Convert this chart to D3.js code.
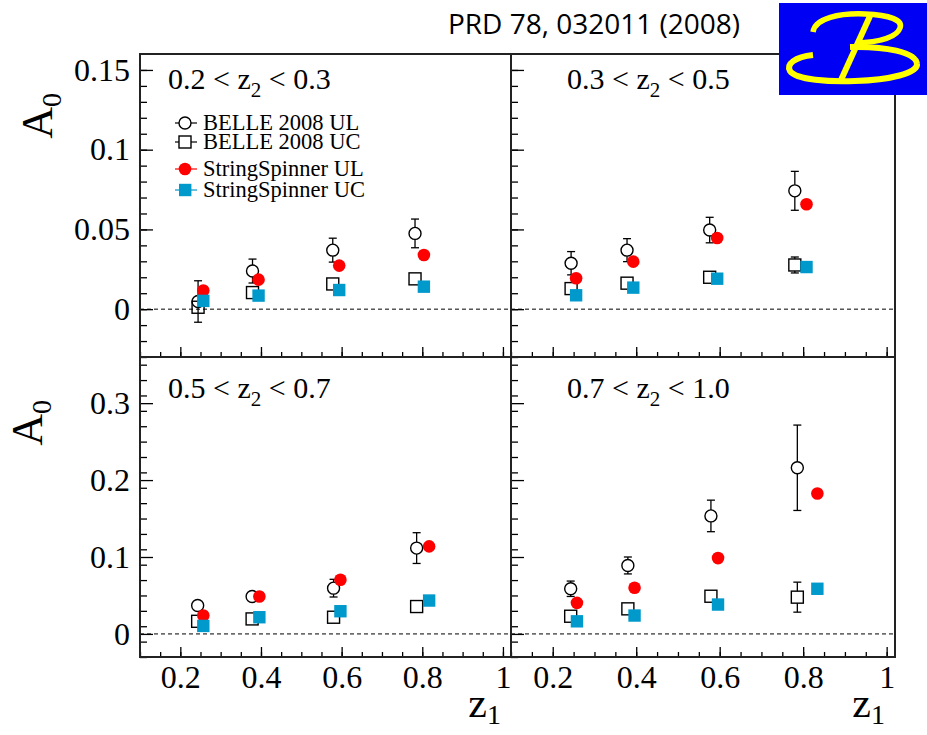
<!DOCTYPE html>
<html>
<head>
<meta charset="utf-8">
<script src="https://cdn.jsdelivr.net/npm/d3@7"></script>
<style>
  body { margin: 0; background: #fff; }
</style>
</head>
<body>
<div id="chart"></div>
<script>
// z2 bins, one per pad (top-left, top-right, bottom-left, bottom-right)
var binLow  = ["0.2", "0.3", "0.5", "0.7"];
var binHigh = ["0.3", "0.5", "0.7", "1.0"];

// BELLE 2008 points (z1 mean, A0 and error)
var belleX = [
  [0.244, 0.379, 0.578, 0.782],
  [0.244, 0.378, 0.576, 0.780],
  [0.243, 0.378, 0.580, 0.786],
  [0.243, 0.380, 0.579, 0.786]
];
var belleUL = [
  [0.0048, 0.0239, 0.0370, 0.0475],
  [0.0288, 0.0370, 0.0496, 0.0742],
  [0.0369, 0.0486, 0.0595, 0.1116],
  [0.0587, 0.0890, 0.1534, 0.2160]
];
var belleULerr = [
  [0.0130, 0.0075, 0.0075, 0.0090],
  [0.0073, 0.0072, 0.0080, 0.0122],
  [0.0060, 0.0060, 0.0115, 0.0200],
  [0.0100, 0.0110, 0.0205, 0.0555]
];
var belleUC = [
  [0.0012, 0.0104, 0.0158, 0.0190],
  [0.0129, 0.0163, 0.0200, 0.0277],
  [0.0164, 0.0195, 0.0217, 0.0356],
  [0.0230, 0.0326, 0.0490, 0.0478]
];
var belleUCerr = [
  [0.0030, 0.0020, 0.0020, 0.0020],
  [0.0030, 0.0030, 0.0030, 0.0050],
  [0.0040, 0.0040, 0.0040, 0.0050],
  [0.0050, 0.0060, 0.0070, 0.0195]
];

// StringSpinner simulation points
var ssX = [
  [0.257, 0.394, 0.594, 0.804],
  [0.256, 0.393, 0.594, 0.808],
  [0.257, 0.396, 0.597, 0.817],
  [0.258, 0.396, 0.596, 0.834]
];
var ssUL = [
  [0.0117, 0.0185, 0.0273, 0.0340],
  [0.0194, 0.0298, 0.0446, 0.0658],
  [0.0239, 0.0486, 0.0704, 0.1138],
  [0.0404, 0.0600, 0.0986, 0.1825]
];
var ssULerr = [
  [0, 0, 0, 0],
  [0, 0, 0, 0],
  [0, 0, 0, 0],
  [0, 0, 0, 0.0060]
];
var ssUC = [
  [0.0052, 0.0085, 0.0120, 0.0141],
  [0.0087, 0.0135, 0.0191, 0.0264],
  [0.0104, 0.0217, 0.0295, 0.0434],
  [0.0164, 0.0239, 0.0382, 0.0587]
];

var legendNames = ["BELLE 2008 UL", "BELLE 2008 UC", "StringSpinner UL", "StringSpinner UC"];

// axes
var xDomain = [0.1, 1.02];
var yDomains = [[-0.03, 0.16], [-0.03, 0.36]];
var xTicks = [0.2, 0.4, 0.6, 0.8, 1];
var yTicks = [[0, 0.05, 0.1, 0.15], [0, 0.1, 0.2, 0.3]];
var yMinorStep = [0.01, 0.02];

var W = 927, H = 735;
var serif = "'Liberation Serif', 'Times New Roman', serif";
var red = "#ff0000", blue = "#0099cc";

var svg = d3.select("#chart").append("svg")
    .attr("width", W)
    .attr("height", H);

// pad boxes in pixels
var colX = [[140, 511], [511, 895]];
var rowY = [[54, 357], [357, 657]];

for (let p = 0; p < 4; p++) {
  let row = Math.floor(p / 2), col = p % 2;
  let x0 = colX[col][0], x1 = colX[col][1];
  let y0 = rowY[row][0], y1 = rowY[row][1];

  let x = d3.scaleLinear().domain(xDomain).range([x0, x1]);
  let y = d3.scaleLinear().domain(yDomains[row]).range([y1, y0]);

  let g = svg.append("g");

  // y axis, ticks point into the pad
  let yMinor = d3.range(yDomains[row][0], yDomains[row][1], yMinorStep[row])
      .map(v => Math.round(v * 1000) / 1000);
  let ya = g.append("g")
      .attr("transform", "translate(" + x0 + ",0)")
      .call(d3.axisLeft(y).tickValues(yMinor).tickSize(-7).tickFormat(""));
  ya.select(".domain").remove();
  let yb = g.append("g")
      .attr("transform", "translate(" + x0 + ",0)")
      .call(d3.axisLeft(y).tickValues(yTicks[row]).tickSize(-13).tickPadding(10)
        .tickFormat(col == 0 ? String : ""));
  yb.select(".domain").remove();
  yb.attr("font-family", serif).attr("font-size", 32);
  g.selectAll(".tick line").attr("stroke-width", 1.3);

  // x axis at the bottom of the pad
  let xMinor = d3.range(0.1, 1.02, 0.05).map(v => Math.round(v * 100) / 100);
  let xa = g.append("g")
      .attr("transform", "translate(0," + y1 + ")")
      .call(d3.axisBottom(x).tickValues(xMinor).tickSize(-5).tickFormat(""));
  xa.select(".domain").remove();
  let xb = g.append("g")
      .attr("transform", "translate(0," + y1 + ")")
      .call(d3.axisBottom(x).tickValues(xTicks).tickSize(-10).tickPadding(8)
        .tickFormat(row == 1 ? String : ""));
  xb.select(".domain").remove();
  xb.attr("font-family", serif).attr("font-size", 32);
  g.selectAll(".tick line").attr("stroke-width", 1.3);

  // zero line
  g.append("line")
      .attr("x1", x0).attr("x2", x1)
      .attr("y1", y(0)).attr("y2", y(0))
      .attr("stroke", "#000")
      .attr("stroke-width", 1)
      .attr("stroke-dasharray", "4,3");

  // frame
  g.append("rect")
      .attr("x", x0).attr("y", y0)
      .attr("width", x1 - x0).attr("height", y1 - y0)
      .attr("fill", "none")
      .attr("stroke", "#222")
      .attr("stroke-width", 2);

  // error bars (drawn outside the marker)
  function errBars(xs, vs, es, r) {
    for (let i = 0; i < xs.length; i++) {
      let cx = x(xs[i]), cy = y(vs[i]);
      let top = y(vs[i] + es[i]), bot = y(vs[i] - es[i]);
      if (cy - top > r + 1) {
        g.append("line").attr("x1", cx).attr("x2", cx).attr("y1", top).attr("y2", cy - r)
          .attr("stroke", "#000").attr("stroke-width", 1.3);
        g.append("line").attr("x1", cx - 4).attr("x2", cx + 4).attr("y1", top).attr("y2", top)
          .attr("stroke", "#000").attr("stroke-width", 1.3);
      }
      if (bot - cy > r + 1) {
        g.append("line").attr("x1", cx).attr("x2", cx).attr("y1", cy + r).attr("y2", bot)
          .attr("stroke", "#000").attr("stroke-width", 1.3);
        g.append("line").attr("x1", cx - 4).attr("x2", cx + 4).attr("y1", bot).attr("y2", bot)
          .attr("stroke", "#000").attr("stroke-width", 1.3);
      }
    }
  }

  errBars(belleX[p], belleUL[p], belleULerr[p], 6);
  errBars(belleX[p], belleUC[p], belleUCerr[p], 6);
  errBars(ssX[p], ssUL[p], ssULerr[p], 6);

  g.selectAll(".bul").data(belleUL[p]).enter().append("circle")
      .attr("cx", (d, i) => x(belleX[p][i]))
      .attr("cy", d => y(d))
      .attr("r", 6)
      .attr("fill", "none")
      .attr("stroke", "#000")
      .attr("stroke-width", 1.4);

  g.selectAll(".buc").data(belleUC[p]).enter().append("rect")
      .attr("x", (d, i) => x(belleX[p][i]) - 6)
      .attr("y", d => y(d) - 6)
      .attr("width", 12).attr("height", 12)
      .attr("fill", "none")
      .attr("stroke", "#000")
      .attr("stroke-width", 1.4);

  g.selectAll(".sul").data(ssUL[p]).enter().append("circle")
      .attr("cx", (d, i) => x(ssX[p][i]))
      .attr("cy", d => y(d))
      .attr("r", 6.3)
      .attr("fill", red);

  g.selectAll(".suc").data(ssUC[p]).enter().append("rect")
      .attr("x", (d, i) => x(ssX[p][i]) - 6.2)
      .attr("y", d => y(d) - 6.2)
      .attr("width", 12.4).attr("height", 12.4)
      .attr("fill", blue);

  // bin label
  let lx = col == 0 ? x0 + 28 : x0 + 56;
  let ly = row == 0 ? y0 + 35 : y0 + 41;
  let t = g.append("text")
      .attr("x", lx).attr("y", ly)
      .attr("font-family", serif)
      .attr("font-size", 30);
  t.append("tspan").text(binLow[p] + " < z");
  t.append("tspan").attr("dy", 8).attr("font-size", 21).text("2");
  t.append("tspan").attr("dy", -8).text(" < " + binHigh[p]);

  // x title under the bottom pads
  if (row == 1) {
    let xt = svg.append("text")
        .attr("x", x1 - 10).attr("y", 717)
        .attr("text-anchor", "end")
        .attr("font-family", serif)
        .attr("font-size", 42);
    xt.append("tspan").text("z");
    xt.append("tspan").attr("dy", 7).attr("font-size", 28).text("1");
  }
}

// y titles
var yTitlePos = [[52, 93], [42, 400]];
for (let r = 0; r < 2; r++) {
  let yt = svg.append("text")
      .attr("transform", "translate(" + yTitlePos[r][0] + "," + yTitlePos[r][1] + ") rotate(-90)")
      .attr("text-anchor", "end")
      .attr("font-family", serif)
      .attr("font-size", 44);
  yt.append("tspan").text("A");
  yt.append("tspan").attr("dy", 9).attr("font-size", 28).text("0");
}

// legend in the first pad
var legY = [123, 142, 169, 190];
var leg = svg.append("g");
for (let i = 0; i < 4; i++) {
  let c = i < 2 ? "#000" : (i == 2 ? red : blue);
  leg.append("line")
      .attr("x1", 175).attr("x2", 197)
      .attr("y1", legY[i]).attr("y2", legY[i])
      .attr("stroke", c).attr("stroke-width", 1.2);
  if (i == 0) {
    leg.append("circle").attr("cx", 185).attr("cy", legY[i]).attr("r", 6)
        .attr("fill", "#fff").attr("stroke", "#000").attr("stroke-width", 1.4);
  } else if (i == 1) {
    leg.append("rect").attr("x", 179).attr("y", legY[i] - 6).attr("width", 12).attr("height", 12)
        .attr("fill", "#fff").attr("stroke", "#000").attr("stroke-width", 1.4);
  } else if (i == 2) {
    leg.append("circle").attr("cx", 185).attr("cy", legY[i]).attr("r", 6.3).attr("fill", red);
  } else {
    leg.append("rect").attr("x", 179).attr("y", legY[i] - 6.2).attr("width", 12.4).attr("height", 12.4)
        .attr("fill", blue);
  }
  leg.append("text")
      .attr("x", 203).attr("y", legY[i] + 7)
      .attr("font-family", serif)
      .attr("font-size", 22.5)
      .text(legendNames[i]);
}

// reference
svg.append("text")
    .attr("x", 594).attr("y", 34)
    .attr("text-anchor", "middle")
    .attr("font-family", "'Open Sans', sans-serif")
    .attr("font-size", 28)
    .text("PRD 78, 032011 (2008)");

// Belle logo
var logo = svg.append("g");
logo.append("rect")
    .attr("x", 779).attr("y", 3)
    .attr("width", 148).attr("height", 92)
    .attr("fill", "#0000f5");
logo.append("path")
    .attr("d", "M813,32 C815,18 840,13 865,14 C890,15 903,20 900,28 C897,37 880,42 856,43")
    .attr("fill", "none").attr("stroke", "#ffff00").attr("stroke-width", 5.5);
logo.append("path")
    .attr("d", "M870,16 L841,80")
    .attr("fill", "none").attr("stroke", "#ffff00").attr("stroke-width", 6);
logo.append("path")
    .attr("d", "M813,55 C795,57 786,64 790,71 C796,80 830,82 855,81 C890,80 918,73 917,64 C916,52 885,46 850,47")
    .attr("fill", "none").attr("stroke", "#ffff00").attr("stroke-width", 6);
</script>
</body>
</html>
